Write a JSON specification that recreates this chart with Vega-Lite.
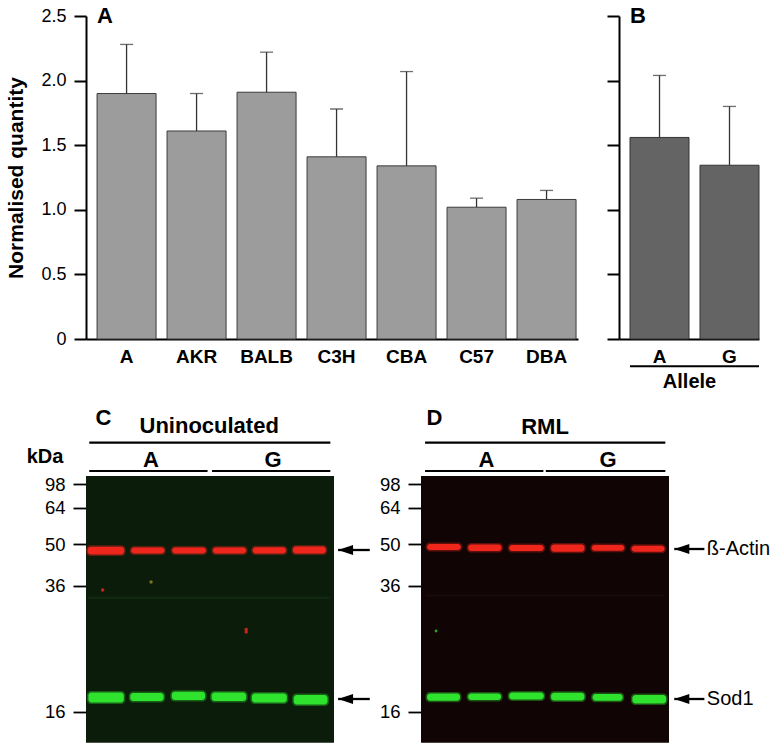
{
  "$schema": "https://vega.github.io/schema/vega-lite/v6.json",
  "padding": {"left": 5, "top": 5, "right": 2, "bottom": 2},
  "background": "white",
  "config": {
    "view": {"stroke": null},
    "font": "Liberation Sans",
    "axis": {"grid": false, "domainColor": "black", "tickColor": "black", "labelColor": "black", "titleColor": "black", "labelFont": "Liberation Sans", "titleFont": "Liberation Sans", "labelFlush": false, "labelOverlap": false}
  },
  "datasets": {
    "strains": [
      {"strain": "A", "mean": 1.90, "upper": 2.28},
      {"strain": "AKR", "mean": 1.61, "upper": 1.90},
      {"strain": "BALB", "mean": 1.91, "upper": 2.22},
      {"strain": "C3H", "mean": 1.41, "upper": 1.78},
      {"strain": "CBA", "mean": 1.34, "upper": 2.07},
      {"strain": "C57", "mean": 1.02, "upper": 1.09},
      {"strain": "DBA", "mean": 1.08, "upper": 1.15}
    ],
    "alleles": [
      {"allele": "A", "mean": 1.56, "upper": 2.04},
      {"allele": "G", "mean": 1.345, "upper": 1.80}
    ],
    "blot_bg": [
      {"panel": "C", "x": 0, "x2": 6.1, "y": 0, "y2": 266.7},
      {"panel": "D", "x": 0, "x2": 6.1, "y": 0, "y2": 266.7}
    ],
    "faint_bands": [
      {"panel": "C", "x": 0.05, "x2": 6.0, "y": 120.5, "y2": 123},
      {"panel": "D", "x": 0.1, "x2": 6.0, "y": 118.5, "y2": 120.5}
    ],
    "bands": [
      {"panel": "C", "lane": 1, "protein": "ß-Actin", "x": 0.04, "x2": 0.94, "y": 70.7, "y2": 78.4},
      {"panel": "C", "lane": 2, "protein": "ß-Actin", "x": 1.11, "x2": 1.93, "y": 71.5, "y2": 77.5},
      {"panel": "C", "lane": 3, "protein": "ß-Actin", "x": 2.12, "x2": 2.95, "y": 71.4, "y2": 77.6},
      {"panel": "C", "lane": 4, "protein": "ß-Actin", "x": 3.12, "x2": 3.94, "y": 71.4, "y2": 77.4},
      {"panel": "C", "lane": 5, "protein": "ß-Actin", "x": 4.10, "x2": 4.92, "y": 71.2, "y2": 77.6},
      {"panel": "C", "lane": 6, "protein": "ß-Actin", "x": 5.09, "x2": 5.90, "y": 70.6, "y2": 77.5},
      {"panel": "C", "lane": 1, "protein": "Sod1", "x": 0.06, "x2": 0.93, "y": 216.4, "y2": 226.4},
      {"panel": "C", "lane": 2, "protein": "Sod1", "x": 1.09, "x2": 1.91, "y": 217.0, "y2": 225.0},
      {"panel": "C", "lane": 3, "protein": "Sod1", "x": 2.11, "x2": 2.93, "y": 215.7, "y2": 224.0},
      {"panel": "C", "lane": 4, "protein": "Sod1", "x": 3.09, "x2": 3.94, "y": 216.4, "y2": 225.0},
      {"panel": "C", "lane": 5, "protein": "Sod1", "x": 4.08, "x2": 4.94, "y": 217.4, "y2": 226.4},
      {"panel": "C", "lane": 6, "protein": "Sod1", "x": 5.11, "x2": 5.94, "y": 219.0, "y2": 228.4},
      {"panel": "D", "lane": 1, "protein": "ß-Actin", "x": 0.15, "x2": 0.98, "y": 68.0, "y2": 74.0},
      {"panel": "D", "lane": 2, "protein": "ß-Actin", "x": 1.16, "x2": 1.98, "y": 68.4, "y2": 75.0},
      {"panel": "D", "lane": 3, "protein": "ß-Actin", "x": 2.17, "x2": 3.02, "y": 69.0, "y2": 75.0},
      {"panel": "D", "lane": 4, "protein": "ß-Actin", "x": 3.20, "x2": 4.02, "y": 68.4, "y2": 75.7},
      {"panel": "D", "lane": 5, "protein": "ß-Actin", "x": 4.20, "x2": 5.00, "y": 69.0, "y2": 74.7},
      {"panel": "D", "lane": 6, "protein": "ß-Actin", "x": 5.18, "x2": 5.99, "y": 69.7, "y2": 75.7},
      {"panel": "D", "lane": 1, "protein": "Sod1", "x": 0.15, "x2": 0.96, "y": 217.4, "y2": 224.7},
      {"panel": "D", "lane": 2, "protein": "Sod1", "x": 1.16, "x2": 1.97, "y": 217.4, "y2": 224.0},
      {"panel": "D", "lane": 3, "protein": "Sod1", "x": 2.17, "x2": 3.02, "y": 216.4, "y2": 223.4},
      {"panel": "D", "lane": 4, "protein": "Sod1", "x": 3.20, "x2": 4.02, "y": 216.7, "y2": 224.4},
      {"panel": "D", "lane": 5, "protein": "Sod1", "x": 4.22, "x2": 4.96, "y": 218.0, "y2": 224.7},
      {"panel": "D", "lane": 6, "protein": "Sod1", "x": 5.20, "x2": 6.03, "y": 219.0, "y2": 227.4}
    ],
    "specks": [
      {"panel": "C", "x": 0.41, "y": 114, "channel": "red"},
      {"panel": "C", "x": 3.94, "y": 153.5, "channel": "red"},
      {"panel": "C", "x": 3.94, "y": 156, "channel": "red"},
      {"panel": "C", "x": 1.6, "y": 106, "channel": "yellow"},
      {"panel": "D", "x": 0.37, "y": 155, "channel": "green"}
    ],
    "headers": [
      {"panel": "C", "text": "C", "x": 0.43, "y": -58},
      {"panel": "C", "text": "Uninoculated", "x": 3.03, "y": -50},
      {"panel": "C", "text": "A", "x": 1.6, "y": -16.5},
      {"panel": "C", "text": "G", "x": 4.6, "y": -16.5},
      {"panel": "D", "text": "D", "x": 0.33, "y": -57.6},
      {"panel": "D", "text": "RML", "x": 3.05, "y": -49.5},
      {"panel": "D", "text": "A", "x": 1.61, "y": -16.3},
      {"panel": "D", "text": "G", "x": 4.6, "y": -16.3}
    ],
    "header_rules": [
      {"panel": "C", "x": 0.08, "x2": 6.01, "y": -33.3},
      {"panel": "C", "x": 0.08, "x2": 2.99, "y": -5},
      {"panel": "C", "x": 3.1, "x2": 6.01, "y": -5},
      {"panel": "D", "x": 0.1, "x2": 6.01, "y": -33.3},
      {"panel": "D", "x": 0.1, "x2": 3.01, "y": -5},
      {"panel": "D", "x": 3.07, "x2": 6.01, "y": -5}
    ],
    "arrows": [
      {"panel": "C", "protein": "ß-Actin", "x": 6.2, "x2": 6.98, "y": 74},
      {"panel": "C", "protein": "Sod1", "x": 6.2, "x2": 6.98, "y": 223},
      {"panel": "D", "protein": "ß-Actin", "x": 6.23, "x2": 6.97, "y": 73},
      {"panel": "D", "protein": "Sod1", "x": 6.23, "x2": 6.97, "y": 223}
    ],
    "side_labels": [
      {"panel": "D", "text": "ß-Actin", "x": 7.03, "y": 72.5},
      {"panel": "D", "text": "Sod1", "x": 7.03, "y": 222.5}
    ]
  },
  "spacing": 15,
  "vconcat": [
    {
      "spacing": 28,
      "hconcat": [
        {
          "width": 492,
          "height": 323,
          "data": {"name": "strains"},
          "encoding": {
            "x": {
              "field": "strain", "type": "nominal", "sort": null,
              "scale": {"paddingInner": 0.157, "paddingOuter": 0.093, "align": 0.85},
              "axis": {"title": null, "labelAngle": 0, "ticks": false, "domainWidth": 2, "labelFontSize": 19, "labelFontWeight": "bold", "labelPadding": 8}
            }
          },
          "layer": [
            {
              "mark": {"type": "bar", "fill": "#9c9c9c", "stroke": "#3c3c3c", "strokeWidth": 1},
              "encoding": {
                "y": {
                  "field": "mean", "type": "quantitative",
                  "scale": {"domain": [0, 2.5], "nice": false},
                  "axis": {
                    "title": "Normalised quantity", "titleFontSize": 21, "titleFontWeight": "bold", "titlePadding": 14,
                    "values": [0, 0.5, 1, 1.5, 2, 2.5],
                    "labelExpr": "datum.value == 0 ? '0' : format(datum.value, '.1f')",
                    "labelFontSize": 18, "labelPadding": 8, "tickSize": 12, "tickWidth": 2, "domainWidth": 2
                  }
                }
              }
            },
            {
              "mark": {"type": "rule", "color": "#333333", "strokeWidth": 1.3},
              "encoding": {"y": {"field": "mean", "type": "quantitative"}, "y2": {"field": "upper"}}
            },
            {
              "mark": {"type": "tick", "color": "#333333", "thickness": 1.3, "size": 13},
              "encoding": {"y": {"field": "upper", "type": "quantitative"}}
            },
            {
              "data": {"values": [{"label": "A"}]},
              "mark": {"type": "text", "align": "left", "baseline": "middle", "fontSize": 22, "fontWeight": "bold", "color": "black"},
              "encoding": {
                "x": {"datum": "A", "bandPosition": 0},
                "y": {"datum": 2.5},
                "text": {"field": "label"}
              }
            }
          ]
        },
        {
          "width": 140,
          "height": 323,
          "data": {"name": "alleles"},
          "encoding": {
            "x": {
              "field": "allele", "type": "nominal", "sort": null,
              "scale": {"paddingInner": 0.157, "paddingOuter": 0.0786, "align": 1},
              "axis": {"title": "Allele", "titleFontSize": 20, "titleFontWeight": "bold", "titlePadding": 5, "labelAngle": 0, "ticks": false, "domainWidth": 2, "labelFontSize": 19, "labelFontWeight": "bold", "labelPadding": 8}
            }
          },
          "layer": [
            {
              "mark": {"type": "bar", "fill": "#646464", "stroke": "#333333", "strokeWidth": 1},
              "encoding": {
                "y": {
                  "field": "mean", "type": "quantitative",
                  "scale": {"domain": [0, 2.5], "nice": false},
                  "axis": {"title": null, "labels": false, "values": [0, 0.5, 1, 1.5, 2, 2.5], "tickSize": 12, "tickWidth": 2, "domainWidth": 2}
                }
              }
            },
            {
              "mark": {"type": "rule", "color": "#333333", "strokeWidth": 1.3},
              "encoding": {"y": {"field": "mean", "type": "quantitative"}, "y2": {"field": "upper"}}
            },
            {
              "mark": {"type": "tick", "color": "#333333", "thickness": 1.3, "size": 13},
              "encoding": {"y": {"field": "upper", "type": "quantitative"}}
            },
            {
              "data": {"values": [{"label": "B"}]},
              "mark": {"type": "text", "align": "left", "baseline": "middle", "fontSize": 22, "fontWeight": "bold", "color": "black"},
              "encoding": {
                "x": {"datum": "A", "bandPosition": 0},
                "y": {"datum": 2.5},
                "text": {"field": "label"}
              }
            },
            {
              "data": {"values": [{"label": "Allele"}]},
              "mark": {"type": "rule", "color": "black", "strokeWidth": 2},
              "encoding": {
                "x": {"datum": "A", "bandPosition": 0},
                "x2": {"datum": "G", "bandPosition": 1},
                "y": {"datum": -0.211}
              }
            }
          ]
        }
      ]
    },
    {
      "spacing": 8,
      "hconcat": [
        {
          "width": 248,
          "height": 337,
          "encoding": {
            "x": {"field": "x", "type": "quantitative", "scale": {"domain": [0, 6.1], "nice": false, "zero": false}, "axis": null},
            "y": {
              "field": "y", "type": "quantitative",
              "scale": {"domain": [-70, 267], "reverse": true, "nice": false, "zero": false},
              "axis": {
                "values": [8.4, 31.7, 68.4, 109.7, 235.7],
                "labelExpr": "datum.value < 20 ? '98' : datum.value < 50 ? '64' : datum.value < 90 ? '50' : datum.value < 150 ? '36' : '16'",
                "domain": false, "tickSize": 13, "tickWidth": 1.8, "labelFontSize": 18.5, "labelPadding": 8,
                "title": "kDa", "titleAngle": 0, "titleFontSize": 20, "titleFontWeight": "bold",
                "titleX": -41.5, "titleY": 50.7, "titleAlign": "center", "titleBaseline": "middle"
              }
            }
          },
          "layer": [
            {
              "data": {"name": "blot_bg"},
              "transform": [{"filter": "datum.panel == 'C'"}],
              "mark": {"type": "rect", "fill": "#0b1c0a"},
              "encoding": {"x2": {"field": "x2"}, "y2": {"field": "y2"}}
            },
            {
              "data": {"name": "faint_bands"},
              "transform": [{"filter": "datum.panel == 'C'"}],
              "mark": {"type": "rect", "fill": "#1a3a1a", "opacity": 0.4},
              "encoding": {"x2": {"field": "x2"}, "y2": {"field": "y2"}}
            },
            {
              "data": {"name": "bands"},
              "transform": [{"filter": "datum.panel == 'C'"}],
              "mark": {"type": "rect", "cornerRadius": 4, "opacity": 0.35, "xOffset": -1.5, "x2Offset": 1.5, "yOffset": -1.5, "y2Offset": 1.5},
              "encoding": {
                "x2": {"field": "x2"}, "y2": {"field": "y2"},
                "color": {"field": "protein", "type": "nominal", "scale": {"domain": ["ß-Actin", "Sod1"], "range": ["#ee261c", "#2ee22e"]}, "legend": null}
              }
            },
            {
              "data": {"name": "bands"},
              "transform": [{"filter": "datum.panel == 'C'"}],
              "mark": {"type": "rect", "cornerRadius": 3},
              "encoding": {
                "x2": {"field": "x2"}, "y2": {"field": "y2"},
                "color": {"field": "protein", "type": "nominal", "legend": null}
              }
            },
            {
              "data": {"name": "specks"},
              "transform": [{"filter": "datum.panel == 'C'"}],
              "mark": {"type": "point", "filled": true, "size": 12, "opacity": 0.9},
              "encoding": {
                "fill": {"field": "channel", "type": "nominal", "scale": {"domain": ["red", "green", "yellow"], "range": ["#e0241c", "#2ed02e", "#8a7a20"]}, "legend": null}
              }
            },
            {
              "data": {"name": "headers"},
              "transform": [{"filter": "datum.panel == 'C'"}],
              "mark": {"type": "text", "align": "center", "baseline": "middle", "fontSize": 22, "fontWeight": "bold", "color": "black"},
              "encoding": {"text": {"field": "text"}}
            },
            {
              "data": {"name": "header_rules"},
              "transform": [{"filter": "datum.panel == 'C'"}],
              "mark": {"type": "rule", "color": "black", "strokeWidth": 2.2},
              "encoding": {"x2": {"field": "x2"}}
            },
            {
              "data": {"name": "arrows"},
              "transform": [{"filter": "datum.panel == 'C'"}],
              "mark": {"type": "rule", "color": "black", "strokeWidth": 2.3},
              "encoding": {"x2": {"field": "x2"}}
            },
            {
              "data": {"name": "arrows"},
              "transform": [{"filter": "datum.panel == 'C'"}],
              "mark": {"type": "point", "shape": "M-1,0L1,-0.67L1,0.67Z", "filled": true, "size": 225, "color": "black", "opacity": 1, "xOffset": 7.5}
            },
            {
              "data": {"values": [{"x": -1.97, "y": 0}]},
              "mark": {"type": "point", "size": 1, "opacity": 0}
            }
          ]
        },
        {
          "width": 248,
          "height": 337,
          "encoding": {
            "x": {"field": "x", "type": "quantitative", "scale": {"domain": [0, 6.1], "nice": false, "zero": false}, "axis": null},
            "y": {
              "field": "y", "type": "quantitative",
              "scale": {"domain": [-70, 267], "reverse": true, "nice": false, "zero": false},
              "axis": {
                "values": [8.4, 31.7, 68.4, 109.7, 235.7],
                "labelExpr": "datum.value < 20 ? '98' : datum.value < 50 ? '64' : datum.value < 90 ? '50' : datum.value < 150 ? '36' : '16'",
                "domain": false, "tickSize": 13, "tickWidth": 1.8, "labelFontSize": 18.5, "labelPadding": 8, "title": null
              }
            }
          },
          "layer": [
            {
              "data": {"name": "blot_bg"},
              "transform": [{"filter": "datum.panel == 'D'"}],
              "mark": {"type": "rect", "fill": "#110404"},
              "encoding": {"x2": {"field": "x2"}, "y2": {"field": "y2"}}
            },
            {
              "data": {"name": "faint_bands"},
              "transform": [{"filter": "datum.panel == 'D'"}],
              "mark": {"type": "rect", "fill": "#241010", "opacity": 0.5},
              "encoding": {"x2": {"field": "x2"}, "y2": {"field": "y2"}}
            },
            {
              "data": {"name": "bands"},
              "transform": [{"filter": "datum.panel == 'D'"}],
              "mark": {"type": "rect", "cornerRadius": 4, "opacity": 0.35, "xOffset": -1.5, "x2Offset": 1.5, "yOffset": -1.5, "y2Offset": 1.5},
              "encoding": {
                "x2": {"field": "x2"}, "y2": {"field": "y2"},
                "color": {"field": "protein", "type": "nominal", "legend": null}
              }
            },
            {
              "data": {"name": "bands"},
              "transform": [{"filter": "datum.panel == 'D'"}],
              "mark": {"type": "rect", "cornerRadius": 3},
              "encoding": {
                "x2": {"field": "x2"}, "y2": {"field": "y2"},
                "color": {"field": "protein", "type": "nominal", "legend": null}
              }
            },
            {
              "data": {"name": "specks"},
              "transform": [{"filter": "datum.panel == 'D'"}],
              "mark": {"type": "point", "filled": true, "size": 8, "opacity": 0.8},
              "encoding": {
                "fill": {"field": "channel", "type": "nominal", "legend": null}
              }
            },
            {
              "data": {"name": "headers"},
              "transform": [{"filter": "datum.panel == 'D'"}],
              "mark": {"type": "text", "align": "center", "baseline": "middle", "fontSize": 22, "fontWeight": "bold", "color": "black"},
              "encoding": {"text": {"field": "text"}}
            },
            {
              "data": {"name": "header_rules"},
              "transform": [{"filter": "datum.panel == 'D'"}],
              "mark": {"type": "rule", "color": "black", "strokeWidth": 2.2},
              "encoding": {"x2": {"field": "x2"}}
            },
            {
              "data": {"name": "arrows"},
              "transform": [{"filter": "datum.panel == 'D'"}],
              "mark": {"type": "rule", "color": "black", "strokeWidth": 2.3},
              "encoding": {"x2": {"field": "x2"}}
            },
            {
              "data": {"name": "arrows"},
              "transform": [{"filter": "datum.panel == 'D'"}],
              "mark": {"type": "point", "shape": "M-1,0L1,-0.67L1,0.67Z", "filled": true, "size": 225, "color": "black", "opacity": 1, "xOffset": 7.5}
            },
            {
              "data": {"name": "side_labels"},
              "transform": [{"filter": "datum.panel == 'D'"}],
              "mark": {"type": "text", "align": "left", "baseline": "middle", "fontSize": 20, "color": "black"},
              "encoding": {"text": {"field": "text"}}
            }
          ]
        }
      ]
    }
  ]
}
